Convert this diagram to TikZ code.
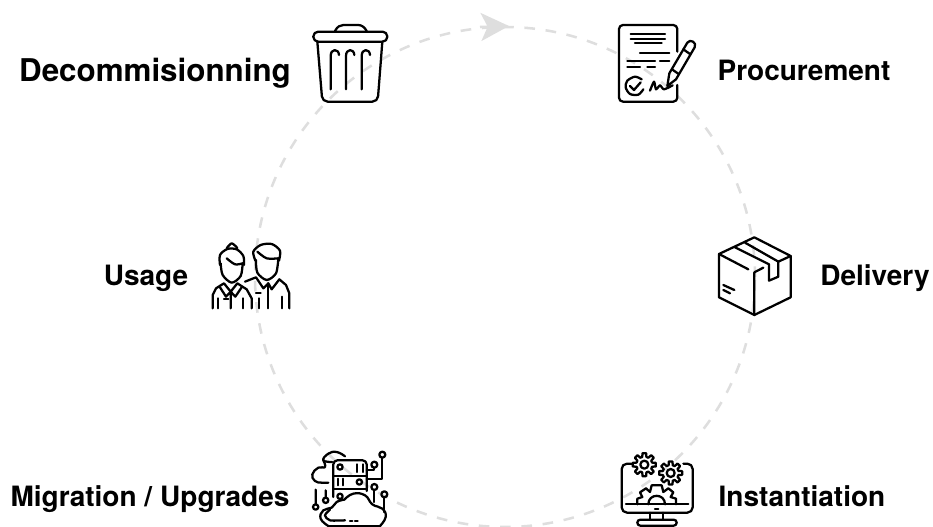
\documentclass[tikz,border=0pt]{standalone}
\usepackage{fontspec}
\setmainfont{TeX Gyre Heros}
\usetikzlibrary{arrows.meta}

\definecolor{ringgray}{HTML}{DEDEDE}

\newcommand{\geardraw}[3]{%
  \draw[iconpen, shift={#1}] \foreach \a in {0,45,...,315} {
    (\a-9:#2) -- (\a+9:#2) -- (\a+15:#3) -- (\a+30:#3) -- (\a+36:#2)};
  \draw[iconpen, shift={#1}] (0,0) circle (0.5*#3);
}

\tikzset{
  iconpen/.style={x=0.25pt, y=-0.25pt, line width=1.7pt, line cap=round, line join=round},
  trashicon/.pic={
    \draw[iconpen, rounded corners=3.6pt] (70,95) rectangle (292,125);
    \draw[iconpen] (135,93) .. controls (142,80) and (150,75) .. (160,75) -- (205,75) .. controls (215,75) and (224,82) .. (230,93);
    \draw[iconpen, rounded corners=4pt] (82,125) -- (97,305) -- (263,305) -- (277,125);
    \foreach \ribx in {122,168,215}
      \draw[iconpen] (\ribx,268) -- (\ribx,168) .. controls (\ribx,145) and (\ribx+24,145) .. (\ribx+25,165);
  },
  contracticon/.pic={
    \draw[iconpen, rounded corners=3pt] (262,125) -- (262,45) -- (87,45) -- (87,275) -- (262,275) -- (262,225);
    \draw[iconpen] (122,72) -- (225,72) (122,87) -- (225,87) (135,100) -- (215,100) (150,128) -- (238,128);
    \draw[iconpen] (112,152) -- (195,152) (210,152) -- (238,152) (112,172) -- (150,172) (172,172) -- (195,172);
    \draw[iconpen] plot[smooth] coordinates {(155,208) (135,200) (112,212) (107,232) (120,252) (145,254) (160,238)};
    \draw[iconpen] (120,228) -- (132,240) -- (152,217);
    \draw[iconpen] plot[smooth, tension=0.4] coordinates {(180,242) (192,215) (198,238) (210,226) (222,238) (248,226)};
    \draw[iconpen] (232,228) -- (238,190) -- (292,98) .. controls (300,85) and (322,98) .. (314,112) -- (258,208) -- cycle;
    \draw[iconpen] (246,178) -- (266,192) (280,118) -- (300,132);
  },
  boxicon/.pic={
    \draw[iconpen] (163,52) -- (272,108) -- (272,232) -- (163,285) -- (57,232) -- (57,102) -- cycle;
    \draw[iconpen] (57,102) -- (145,148) (163,157) -- (163,285) (163,157) -- (190,143) (235,125) -- (272,108);
    \draw[iconpen] (105,82) -- (207,133) -- (207,182) -- (235,170) -- (235,125) -- (135,68);
    \draw[iconpen] (70,195) -- (103,210) (70,210) -- (90,220);
  },
  monitoricon/.pic={
    \draw[iconpen, rounded corners=4pt] (100,140) -- (65,140) -- (65,287) -- (278,287) -- (278,140) -- (250,140);
    \draw[iconpen] (78,262) -- (265,262) (165,276) -- (175,276);
    \draw[iconpen] (150,287) -- (150,308) (190,287) -- (190,308);
    \draw[iconpen, rounded corners=2.2pt] (112,308) rectangle (230,326);
    \geardraw{(133,143)}{35}{24}
    \geardraw{(212,168)}{35}{24}
    \draw[iconpen] (112,262) -- (112,245) -- (127,240) -- (120,226) -- (138,214) -- (150,225) -- (155,205) -- (185,205) -- (190,225) -- (205,214) -- (220,226) -- (212,240) -- (228,245) -- (228,262);
    \draw[iconpen] (145,262) .. controls (145,228) and (195,228) .. (195,262);
  },
  cloudicon/.pic={
    \draw[iconpen] plot[smooth, tension=0.8] coordinates {(112,135) (85,130) (100,110) (125,105) (150,118)};
    \draw[iconpen] plot[smooth, tension=0.8] coordinates {(85,130) (90,150) (70,152) (52,172) (60,192) (80,197) (100,197)};
    \draw[iconpen, rounded corners=3pt] (115,240) -- (115,130) -- (215,130) -- (215,222);
    \draw[iconpen] (115,178) -- (215,178) (115,215) -- (215,215);
    \draw[iconpen] (135,150) circle (8) (193,195) circle (8);
    \draw[iconpen] (187,142) -- (187,165) (203,142) -- (203,165) (128,185) -- (128,205) (143,185) -- (143,205);
    \draw[iconpen] (215,185) -- (262,185) -- (262,122) (215,160) -- (238,160) -- (238,152);
    \draw[iconpen] (262,113) circle (9) (238,143) circle (9) (238,210) circle (9) (268,232) circle (9);
    \draw[iconpen] (238,219) -- (238,255) (268,241) -- (268,285);
    \draw[iconpen] (62,218) -- (62,262) (92,220) -- (92,242) (135,238) circle (8);
    \draw[iconpen] (62,270) circle (8) (92,250) circle (8);
    \draw[iconpen] plot[smooth, tension=0.8] coordinates {(100,327) (77,305) (85,280) (110,272) (125,255) (148,248)};
    \draw[iconpen] plot[smooth, tension=0.8] coordinates {(148,248) (175,230) (210,235) (232,262) (262,275) (272,300) (255,327)};
    \draw[iconpen] (100,327) -- (255,327);
    \draw[iconpen] plot[smooth] coordinates {(150,310) (105,310) (90,295) (105,278)};
    \draw[iconpen] (165,312) -- (172,312) (180,312) -- (188,312);
  },
  peopleicon/.pic={
    % woman
    \draw[iconpen] plot[smooth] coordinates {(60,105) (60,75) (82,57) (110,58) (130,78) (132,105)};
    \draw[iconpen] plot[smooth] coordinates {(80,55) (95,40) (112,54)};
    \draw[iconpen] plot[smooth] coordinates {(62,100) (68,135) (95,158) (122,138) (128,100)};
    \draw[iconpen] plot[smooth] coordinates {(80,85) (105,103) (128,100)};
    \draw[iconpen] (38,235) -- (38,195) -- (48,175) -- (72,160) -- (92,185) -- (112,160) -- (140,178) -- (155,205) -- (155,235);
    \draw[iconpen] (92,185) -- (78,200) -- (60,172) (92,185) -- (106,200) -- (125,172) (92,185) -- (92,235);
    \draw[iconpen] (55,205) -- (55,235) (130,205) -- (130,235) (72,208) -- (85,208);
    % man
    \draw[iconpen] plot[smooth] coordinates {(166,92) (160,65) (182,45) (215,42) (240,62) (237,92)};
    \draw[iconpen] plot[smooth] coordinates {(168,90) (172,128) (200,150) (228,130) (235,85)};
    \draw[iconpen] plot[smooth] coordinates {(172,65) (200,85) (235,85)};
    \draw[iconpen] (135,155) -- (168,142) -- (190,175) -- (205,160) -- (215,178) -- (238,148) -- (258,165) -- (268,190) -- (268,235);
    \draw[iconpen] (205,160) -- (205,235) (245,200) -- (245,235) (178,205) -- (178,235) (168,190) -- (182,190);
  }
}

\begin{document}
\begin{tikzpicture}[
  x=0.75pt, y=-0.75pt,
  ringline/.style={draw=ringgray, line width=1.9pt, dash pattern=on 8pt off 8pt},
  ringtip/.style={draw=ringgray, line width=1.9pt, -{Stealth[length=21pt, width=21pt, inset=5pt, fill=ringgray]}},
  steptext/.style={font=\fontsize{21}{25}\selectfont\bfseries, anchor=base, inner sep=0pt},
  bigtext/.style={font=\fontsize{23.5}{28}\selectfont\bfseries, anchor=base, inner sep=0pt}
]
\useasboundingbox (0,0) rectangle (933,527);

\coordinate (ringcenter) at (505,277);
\coordinate (ringfrom) at (480,27);
\coordinate (ringtop) at (509,26);

\draw[ringline] (ringcenter) circle[radius=187.5pt];
\draw[ringtip] (ringfrom) -- (ringtop);

\pic at (290,0) {trashicon};
\pic at (590,10) {contracticon};
\pic at (700,220) {boxicon};
\pic at (600,417) {monitoricon};
\pic at (295,417) {cloudicon};
\pic at (200,230) {peopleicon};

\node[bigtext] (decomm) at (155,82) {Decommisionning};
\node[steptext] (procure) at (804,81) {Procurement};
\node[steptext] (delivery) at (875,286) {Delivery};
\node[steptext] (instant) at (802,507) {Instantiation};
\node[steptext] (migrate) at (150,507) {Migration / Upgrades};
\node[steptext] (usage) at (146,286) {Usage};

\end{tikzpicture}
\end{document}
